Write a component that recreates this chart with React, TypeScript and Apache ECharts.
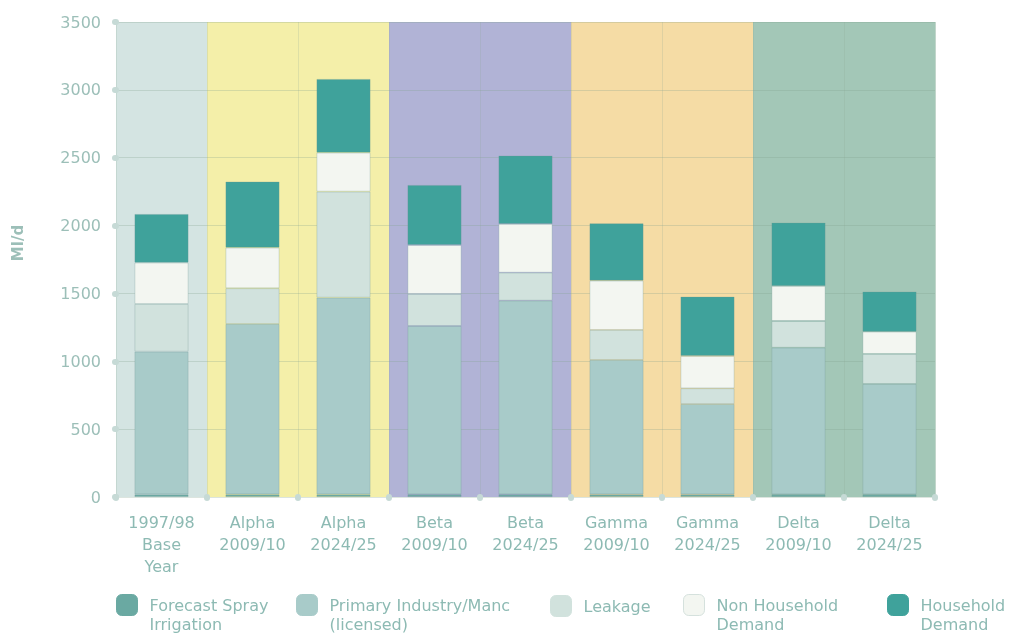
import React, { useEffect, useRef } from "react";
import * as echarts from "echarts";

const categories = [
  "1997/98\nBase\nYear",
  "Alpha\n2009/10",
  "Alpha\n2024/25",
  "Beta\n2009/10",
  "Beta\n2024/25",
  "Gamma\n2009/10",
  "Gamma\n2024/25",
  "Delta\n2009/10",
  "Delta\n2024/25",
];
const sprayIrrigation = [20, 20, 20, 20, 20, 20, 20, 20, 20];
const primaryIndustry = [1051, 1255, 1449, 1240, 1427, 990, 665, 1080, 813];
const leakage = [351, 263, 781, 236, 206, 221, 116, 197, 221];
const nonHousehold = [305, 299, 287, 361, 359, 363, 238, 258, 164];
const household = [358, 487, 543, 442, 503, 423, 437, 466, 295];
const bandGroup = [0, 1, 1, 2, 2, 3, 3, 4, 4];
const yTicks = { min: 0, max: 3500, interval: 500 };

const seriesNames = [
  "Forecast Spray\nIrrigation",
  "Primary Industry/Manc\n(licensed)",
  "Leakage",
  "Non Household\nDemand",
  "Household\nDemand",
];

const bandColors = ["#d4e4e2", "#f4efa9", "#b1b3d6", "#f5dca5", "#a3c7b7"];
const segColors = ["#6aa9a2", "#a8cbc9", "#d1e2dd", "#f3f6f1", "#3fa29b"];
const textColor = "#8dbab3";

export default function App() {
  const ref = useRef<HTMLDivElement>(null);
  useEffect(() => {
    const chart = echarts.init(ref.current!, null, { renderer: "svg" });
    const values = [sprayIrrigation, primaryIndustry, leakage, nonHousehold, household];
    const legendLeft = [116, 296, 550, 683, 887];
    const fontFamily = "DejaVu Sans";

    const barSeries = seriesNames.map((name, i) => ({
      name,
      type: "bar",
      stack: "total",
      barWidth: 54,
      data: values[i],
      itemStyle: {
        color: segColors[i],
        borderColor: "rgba(110,150,145,0.35)",
        borderWidth: 0.8,
      },
      z: 3,
    }));

    const legends = seriesNames.map((name, i) => {
      const multi = name.includes("\n");
      return {
        show: true,
        left: legendLeft[i],
        top: multi ? 576.5 : 595,
        padding: 0,
        itemWidth: 21,
        itemHeight: 21,
        icon: "roundRect",
        selectedMode: false,
        formatter: (n: string) => (n.includes("\n") ? "\n" + n : n),
        data: [
          {
            name,
            itemStyle: {
              color: segColors[i],
              borderColor: i === 3 ? "#d5e1dd" : segColors[i],
              borderWidth: 1,
            },
          },
        ],
        textStyle: {
          color: textColor,
          fontSize: 16,
          fontFamily,
          lineHeight: 19,
          padding: [0, 0, 0, 7],
        },
      };
    });

    chart.setOption({
      animation: false,
      grid: { left: 116, right: 78, top: 22, bottom: 136, containLabel: false },
      legend: legends,
      xAxis: {
        type: "category",
        data: categories,
        axisLine: { show: false },
        axisTick: {
          show: true,
          length: 1,
          lineStyle: { width: 6, cap: "round", color: "#c6dad6" },
        },
        axisLabel: {
          color: textColor,
          fontSize: 16,
          fontFamily,
          lineHeight: 22,
          margin: 14,
          interval: 0,
        },
        splitLine: {
          show: true,
          lineStyle: { color: "rgba(140,170,150,0.22)", width: 1 },
        },
      },
      yAxis: {
        type: "value",
        min: yTicks.min,
        max: yTicks.max,
        interval: yTicks.interval,
        axisLine: { show: false },
        axisTick: {
          show: true,
          length: 1,
          lineStyle: { width: 6, cap: "round", color: "#c6dad6" },
        },
        axisLabel: {
          color: "#9cbfb8",
          fontSize: 16,
          fontFamily,
          margin: 15,
          formatter: (v: number) => String(v),
        },
        splitLine: {
          show: true,
          lineStyle: { color: "rgba(130,160,140,0.28)", width: 1 },
        },
      },
      graphic: [
        {
          type: "text",
          x: 18,
          y: 243,
          rotation: Math.PI / 2,
          style: {
            text: "Ml/d",
            fill: "#9cbfb8",
            fontSize: 15,
            fontFamily,
            fontWeight: "bold",
            align: "center",
            verticalAlign: "middle",
          },
        },
      ],
      series: [
        {
          type: "custom",
          silent: true,
          z: -1,
          data: bandGroup.map((g, i) => [i, yTicks.max, g]),
          renderItem: (params: any, api: any) => {
            const idx = api.value(0);
            const top = api.coord([idx, yTicks.max]);
            const bottom = api.coord([idx, 0]);
            const w = api.size([1, 0])[0];
            return {
              type: "rect",
              shape: { x: top[0] - w / 2, y: top[1], width: w + 0.5, height: bottom[1] - top[1] },
              style: { fill: bandColors[api.value(2)] },
            };
          },
        },
        ...barSeries,
      ],
    });
    return () => chart.dispose();
  }, []);
  return (
    <div
      ref={ref}
      style={{ position: "fixed", left: 0, top: 0, width: 1013, height: 633 }}
    />
  );
}
